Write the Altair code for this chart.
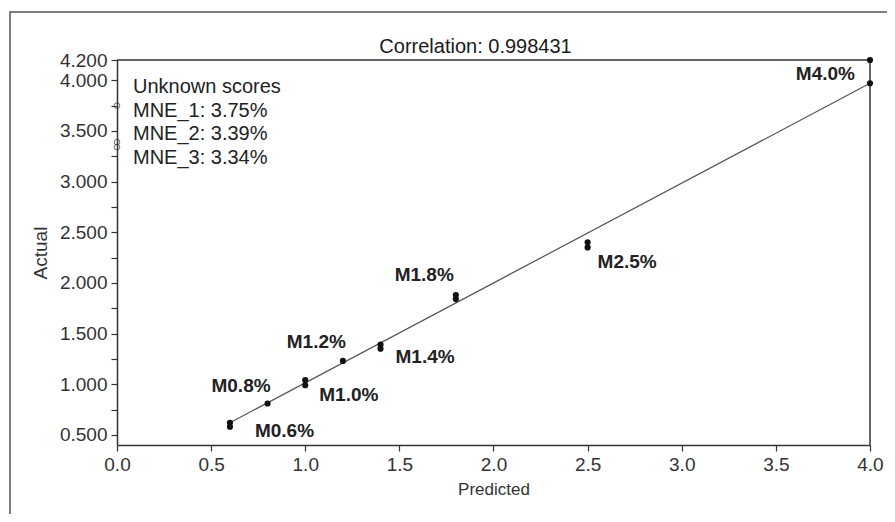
import altair as alt
import pandas as pd

# ---- data ----
sample_names = ["M0.6%", "M0.6%", "M0.8%", "M1.0%", "M1.0%", "M1.2%", "M1.4%", "M1.4%",
                "M1.8%", "M1.8%", "M2.5%", "M2.5%", "M4.0%", "M4.0%"]
predicted = [0.6, 0.6, 0.8, 1.0, 1.0, 1.2, 1.4, 1.4, 1.8, 1.8, 2.5, 2.5, 4.0, 4.0]
actual = [0.58, 0.62, 0.81, 0.99, 1.04, 1.23, 1.35, 1.39, 1.84, 1.88, 2.35, 2.40, 3.97, 4.20]

unknown_names = ["MNE_1", "MNE_2", "MNE_3"]
unknown_scores = [3.75, 3.39, 3.34]
unknown_pred = [0.0, 0.0, 0.0]

fit_x = [0.6, 4.0]
fit_y = [0.62, 3.97]

correlation = "0.998431"

x_ticks = [0.0, 0.5, 1.0, 1.5, 2.0, 2.5, 3.0, 3.5, 4.0]
y_ticks = [0.5, 0.75, 1.0, 1.25, 1.5, 1.75, 2.0, 2.25, 2.5, 2.75, 3.0, 3.25,
           3.5, 3.75, 4.0, 4.2]

# ---- tables ----
pts = pd.DataFrame({"name": sample_names, "Predicted": predicted, "Actual": actual})
lab = pts.groupby("name", as_index=False).agg(Predicted=("Predicted", "mean"),
                                               Actual=("Actual", "mean"))
unk = pd.DataFrame({"name": unknown_names, "Predicted": unknown_pred, "Actual": unknown_scores})
fit = pd.DataFrame({"Predicted": fit_x, "Actual": fit_y})
legend_text = "\n".join(["Unknown scores"] +
                        [f"{n}: {v:.2f}%" for n, v in zip(unknown_names, unknown_scores)])
title_text = f"Correlation: {correlation}"

# label placement (style only)
label_style = {
    "M0.6%": ("left", 25, 6),
    "M0.8%": ("right", 3, -17),
    "M1.0%": ("left", 14, 12),
    "M1.2%": ("right", 3, -19),
    "M1.4%": ("left", 15, 10),
    "M1.8%": ("right", -2, -22),
    "M2.5%": ("left", 10, 17),
    "M4.0%": ("right", -15, 2),
}

FONT = "Liberation Sans"
W, H = 753, 385

xs = alt.Scale(domain=[0, 4.0001], nice=False, zero=False)
ys = alt.Scale(domain=[0.4, 4.2001], nice=False, zero=False)

x_enc = alt.X("Predicted:Q", scale=xs, title="Predicted",
              axis=alt.Axis(values=x_ticks, format=".1f", labelFlush=False,
                            labelOverlap=False, grid=False, tickSize=6, labelFontSize=19,
                            titleFontSize=17, labelPadding=4, titlePadding=7))
y_enc = alt.Y("Actual:Q", scale=ys, title="Actual",
              axis=alt.Axis(values=y_ticks, grid=False, tickSize=6, labelOverlap=False,
                            labelFlush=False, labelPadding=4, titlePadding=9,
                            labelFontSize=19, titleFontSize=19,
                            labelExpr="(abs(datum.value*2 - round(datum.value*2)) < 0.001 || datum.value > 4.1) ? format(datum.value, '.3f') : ''"))

frame = alt.Chart(alt.Data(values=[{}])).mark_rect(
    fill=None, stroke="#555555", strokeWidth=1.5
).encode(x=alt.value(-107), x2=alt.value(W + 60), y=alt.value(-48), y2=alt.value(H + 100))

top_rule = alt.Chart(alt.Data(values=[{}])).mark_rule(color="#333333", strokeWidth=1.5).encode(
    y=alt.value(0), x=alt.value(0), x2=alt.value(W))
right_rule = alt.Chart(alt.Data(values=[{}])).mark_rule(color="#333333", strokeWidth=1.5).encode(
    x=alt.value(W), y=alt.value(0), y2=alt.value(H))

title = alt.Chart(alt.Data(values=[{"t": title_text}])).mark_text(
    align="center", baseline="alphabetic", font=FONT, fontSize=20, color="#1a1a1a"
).encode(x=alt.value(W / 2 - 18), y=alt.value(-7), text="t:N")

line = alt.Chart(fit).mark_line(color="#555555", strokeWidth=1.2).encode(x=x_enc, y=y_enc)

dots = alt.Chart(pts).mark_circle(size=38, color="#111111", opacity=1).encode(x=x_enc, y=y_enc)

unk_pts = alt.Chart(unk).mark_point(shape="circle", filled=False, size=32,
                                    color="#333333", strokeWidth=1).encode(x=x_enc, y=y_enc)

label_layers = []
for name, (align, dx, dy) in label_style.items():
    label_layers.append(
        alt.Chart(lab[lab["name"] == name]).mark_text(
            align=align, baseline="middle", dx=dx, dy=dy, font=FONT,
            fontSize=19, fontWeight="bold", color="#222222"
        ).encode(x=x_enc, y=y_enc, text="name:N")
    )

legend = alt.Chart(alt.Data(values=[{"t": legend_text}])).mark_text(
    align="left", baseline="top", font=FONT, fontSize=20, color="#222222",
    lineBreak="\n", lineHeight=23.5
).encode(x=alt.value(16), y=alt.value(17), text="t:N")

chart = alt.layer(frame, top_rule, right_rule, title, line, dots, unk_pts, *label_layers, legend).properties(
    width=W, height=H,
    autosize=alt.AutoSizeParams(type="none"),
    padding={"left": 109, "top": 52, "right": 17, "bottom": 69},
    background="white",
).configure_view(stroke=None).configure_axis(
    labelFont=FONT, titleFont=FONT,
    titleFontWeight="normal", labelColor="#333333", titleColor="#333333",
    domainColor="#333333", tickColor="#333333", domainWidth=1.5, tickWidth=1.2
)

chart.save("out.html", embed_options={"renderer": "svg", "actions": False})
